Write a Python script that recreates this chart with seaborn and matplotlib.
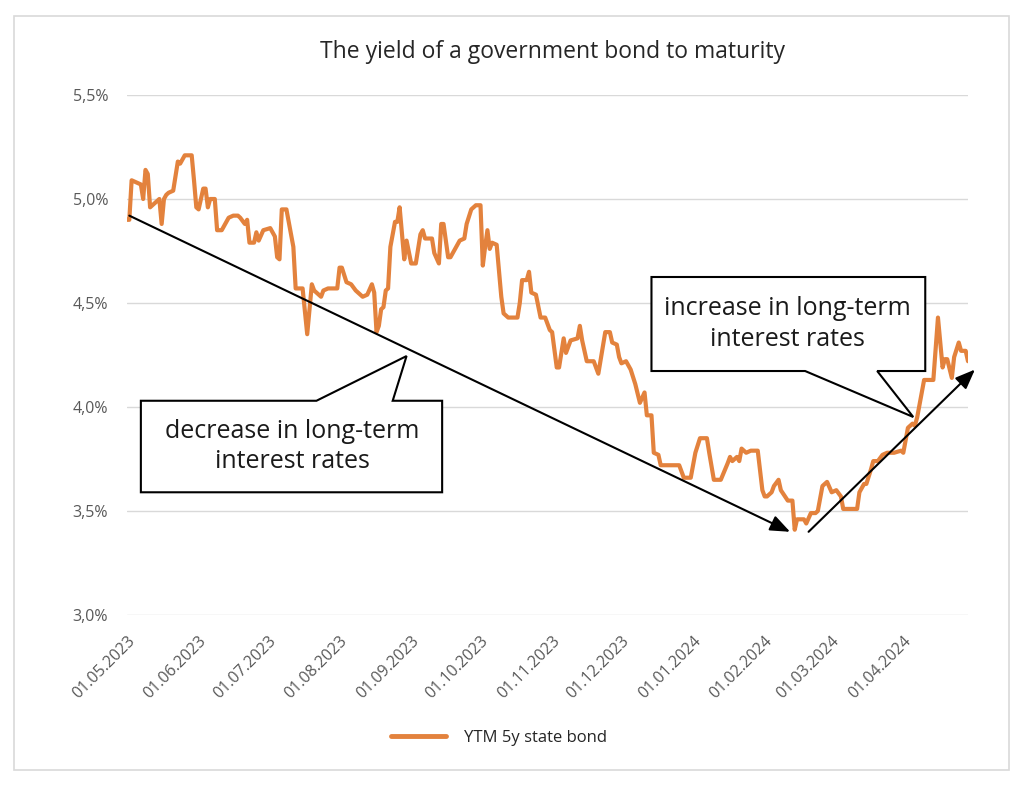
import pandas as pd
import matplotlib.pyplot as plt
import matplotlib.dates as mdates
import matplotlib.ticker as mticker
from matplotlib.patches import Polygon, Rectangle
import seaborn as sns

# ---------------------------
# Data (days after 01.05.2023, yield in %)
# ---------------------------
start = pd.Timestamp("2023-05-01")
days = [0, 1, 2, 4, 6, 7, 8, 9, 10, 11, 13, 14, 15, 16, 17, 18, 20, 22, 23, 25,
        28, 29, 30, 31, 33, 34, 35, 36, 38, 39, 41, 44, 46, 48, 49, 51, 52, 53, 55, 56,
        57, 59, 62, 64, 65, 66, 67, 69, 72, 73, 76, 78, 80, 81, 82, 84, 85, 87, 91, 92,
        93, 95, 97, 99, 102, 104, 106, 107, 108, 109, 110, 111, 112, 113, 114, 116, 117, 118, 120, 121,
        123, 125, 127, 128, 129, 132, 133, 135, 136, 137, 139, 140, 144, 146, 147, 149, 151, 153, 154, 155,
        156, 157, 158, 160, 162, 163, 165, 169, 170, 171, 173, 174, 175, 177, 179, 181, 183, 184, 186, 187,
        189, 190, 192, 195, 196, 197, 199, 202, 204, 207, 209, 210, 212, 213, 214, 216, 218, 220, 222, 224,
        225, 227, 228, 230, 231, 239, 241, 244, 246, 248, 251, 252, 254, 257, 260, 261, 262, 264, 265, 266,
        268, 270, 273, 275, 276, 277, 279, 280, 282, 283, 286, 288, 289, 290, 293, 294, 296, 298, 299, 301,
        303, 305, 307, 309, 310, 316, 317, 319, 320, 322, 323, 325, 327, 329, 332, 335, 336, 338, 340, 341,
        342, 345, 349, 351, 352, 353, 354, 355, 357, 358, 360, 361, 363, 364]
ytm = [4.90, 4.90, 5.09, 5.08, 5.07, 5.00, 5.14, 5.12, 4.96, 4.97, 4.99, 5.00, 4.88, 5.00, 5.02, 5.03, 5.04, 5.18, 5.17, 5.21,
       5.21, 5.09, 4.96, 4.95, 5.05, 5.05, 4.96, 5.00, 5.00, 4.85, 4.85, 4.91, 4.92, 4.92, 4.91, 4.88, 4.90, 4.79, 4.79, 4.84,
       4.80, 4.85, 4.86, 4.82, 4.72, 4.71, 4.95, 4.95, 4.77, 4.57, 4.57, 4.35, 4.59, 4.56, 4.55, 4.53, 4.56, 4.57, 4.57, 4.67,
       4.67, 4.60, 4.59, 4.56, 4.53, 4.54, 4.59, 4.55, 4.36, 4.39, 4.47, 4.48, 4.56, 4.57, 4.77, 4.89, 4.89, 4.96, 4.71, 4.80,
       4.69, 4.69, 4.83, 4.85, 4.81, 4.81, 4.74, 4.69, 4.88, 4.88, 4.72, 4.72, 4.80, 4.81, 4.88, 4.95, 4.97, 4.97, 4.68, 4.77,
       4.85, 4.76, 4.79, 4.78, 4.53, 4.45, 4.43, 4.43, 4.50, 4.61, 4.61, 4.65, 4.55, 4.54, 4.43, 4.43, 4.37, 4.36, 4.19, 4.19,
       4.33, 4.26, 4.32, 4.33, 4.39, 4.32, 4.22, 4.22, 4.16, 4.36, 4.36, 4.31, 4.30, 4.24, 4.21, 4.22, 4.18, 4.11, 4.02, 4.07,
       3.96, 3.96, 3.78, 3.77, 3.72, 3.72, 3.66, 3.66, 3.78, 3.85, 3.85, 3.78, 3.65, 3.65, 3.73, 3.76, 3.74, 3.76, 3.74, 3.80,
       3.78, 3.79, 3.79, 3.60, 3.57, 3.57, 3.59, 3.62, 3.65, 3.60, 3.55, 3.55, 3.41, 3.46, 3.46, 3.44, 3.49, 3.49, 3.50, 3.62,
       3.64, 3.59, 3.60, 3.57, 3.51, 3.51, 3.59, 3.63, 3.63, 3.70, 3.74, 3.74, 3.77, 3.78, 3.78, 3.79, 3.78, 3.90, 3.92, 3.91,
       3.95, 4.13, 4.13, 4.43, 4.31, 4.19, 4.23, 4.23, 4.14, 4.24, 4.31, 4.27, 4.27, 4.22]

title = "The yield of a government bond to maturity"
series_label = "YTM 5y state bond"
note_down = "decrease in long-term\ninterest rates"
note_up = "increase in long-term\ninterest rates"

df = pd.DataFrame({"date": start + pd.to_timedelta(days, unit="D"), "ytm": ytm})

sns.set_theme(style="white")
plt.rcParams["font.family"] = ["Open Sans", "DejaVu Sans"]

fig = plt.figure(figsize=(10.24, 7.87), dpi=100)
ax = fig.add_axes([127 / 1024, 1 - 615 / 787, 841 / 1024, 520 / 787])

sns.lineplot(data=df, x="date", y="ytm", ax=ax, color="#E3823D", linewidth=3,
             label=series_label, legend=False)

# axes look
ax.set_xlim(start, start + pd.Timedelta(days=364))
ax.set_ylim(3.0, 5.5)
ax.set_yticks([3.0, 3.5, 4.0, 4.5, 5.0, 5.5])
ax.yaxis.set_major_formatter(mticker.FuncFormatter(lambda v, p: f"{v:.1f}%".replace(".", ",")))
ax.xaxis.set_major_locator(mdates.MonthLocator(bymonthday=1))
ax.xaxis.set_major_formatter(mdates.DateFormatter("%d.%m.%Y"))
ax.grid(axis="y", color="#d9d9d9", linewidth=1)
ax.set_axisbelow(True)
for s in ax.spines.values():
    s.set_visible(False)
ax.tick_params(axis="both", length=0, colors="#595959", labelsize=11.5)
ax.tick_params(axis="y", pad=13.5)
ax.tick_params(axis="x", pad=13)
for lbl in ax.get_xticklabels():
    lbl.set_rotation(45)
    lbl.set_ha("right")
    lbl.set_rotation_mode("anchor")
ax.set_xlabel("")
ax.set_ylabel("")

fig.text(553 / 1024, 1 - 52 / 787, title, ha="center", va="center", fontsize=16.5, color="#262626")


def d(n):
    return mdates.date2num(start + pd.Timedelta(days=n))


# trend arrows
arrow = dict(arrowstyle="-|>,head_length=1.0,head_width=0.4", color="black", lw=1.5,
             shrinkA=0, shrinkB=0)
ax.annotate("", xy=(d(287), 3.40), xytext=(d(1), 4.92), arrowprops=arrow, annotation_clip=False)
ax.annotate("", xy=(d(367), 4.18), xytext=(d(295), 3.40), arrowprops=arrow, annotation_clip=False)

# callout boxes
box_down = [(d(6), 4.03), (d(82), 4.03), (d(121), 4.245), (d(115), 4.03), (d(136.4), 4.03),
            (d(136.4), 3.59), (d(6), 3.59)]
box_up = [(d(227), 4.625), (d(345.5), 4.625), (d(345.5), 4.173), (d(324.7), 4.173),
          (d(340.3), 3.952), (d(293.5), 4.173), (d(227), 4.173)]
for pts in (box_down, box_up):
    ax.add_patch(Polygon(pts, closed=True, facecolor="white", edgecolor="black", lw=1.5, zorder=5))
ax.text(d(71.4), 3.81, note_down, ha="center", va="center", fontsize=18, linespacing=1.3,
        color="#1a1a1a", zorder=6)
ax.text(d(286), 4.40, note_up, ha="center", va="center", fontsize=18, linespacing=1.3,
        color="#1a1a1a", zorder=6)

# legend
handles, labels = ax.get_legend_handles_labels()
fig.legend(handles, labels, loc="center", bbox_to_anchor=(499 / 1024, 1 - 738 / 787),
           frameon=False, fontsize=12, handlelength=3.3, handletextpad=1.1,
           labelcolor="#262626")
for h in fig.legends[0].get_lines():
    h.set_linewidth(3.5)

# outer chart border
fig.add_artist(Rectangle((14 / 1024, 1 - 770 / 787), 995 / 1024, 754 / 787,
                         transform=fig.transFigure, fill=False, edgecolor="#d9d9d9", lw=1.2))

plt.savefig("out.png", dpi=100)
